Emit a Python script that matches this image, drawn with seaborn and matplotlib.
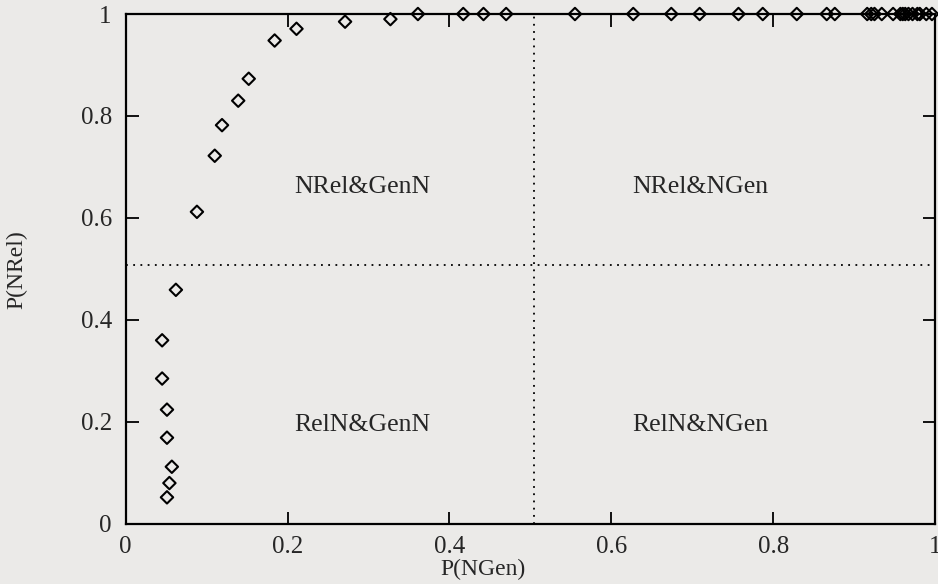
import numpy as np
import pandas as pd
import seaborn as sns
import matplotlib.pyplot as plt

# points
p_ngen = [0.051, 0.054, 0.057, 0.051, 0.051, 0.045, 0.045, 0.062,
          0.088, 0.110, 0.119, 0.139, 0.152, 0.184, 0.211, 0.271, 0.327]
p_nrel = [0.052, 0.080, 0.112, 0.169, 0.224, 0.285, 0.360, 0.459,
          0.612, 0.722, 0.782, 0.830, 0.873, 0.948, 0.971, 0.985, 0.990]

# points sitting on the top border (P(NRel) = 1)
p_ngen_top = [0.361, 0.417, 0.442, 0.470, 0.555, 0.627, 0.674, 0.709, 0.757,
              0.787, 0.829, 0.866, 0.876, 0.916, 0.921, 0.925, 0.934, 0.948,
              0.957, 0.960, 0.963, 0.967, 0.972, 0.978, 0.981, 0.989, 0.996]

x_cut = 0.505
y_cut = 0.508

region_labels = ["NRel&GenN", "NRel&NGen", "RelN&GenN", "RelN&NGen"]
region_x = [0.292, 0.71, 0.292, 0.71]
region_y = [0.66, 0.66, 0.194, 0.194]

ticks = [0, 0.2, 0.4, 0.6, 0.8, 1]
tick_labels = ["0", "0.2", "0.4", "0.6", "0.8", "1"]

df = pd.DataFrame({
    "ngen": p_ngen + p_ngen_top,
    "nrel": p_nrel + [1.0] * len(p_ngen_top),
})

sns.set_style("ticks")
plt.rcParams["font.family"] = ["Liberation Serif", "DejaVu Serif"]
bg = "#ebeae8"

fig = plt.figure(figsize=(9.38, 5.84), dpi=100, facecolor=bg)
ax = fig.add_axes([0.134, 0.103, 0.863, 0.873])
ax.set_facecolor(bg)

ax.axvline(x_cut, color="black", ls=(0, (1, 3)), lw=1.3)
ax.axhline(y_cut, color="black", ls=(0, (1, 3)), lw=1.3)

sns.scatterplot(data=df, x="ngen", y="nrel", marker="D", s=40,
                facecolor="none", edgecolor="black", linewidth=1.5,
                clip_on=False, zorder=5, ax=ax)

for lab, tx, ty in zip(region_labels, region_x, region_y):
    ax.text(tx, ty, lab, ha="center", va="center", fontsize=18.5)

ax.set_xlim(0, 1)
ax.set_ylim(0, 1)
ax.set_xticks(ticks)
ax.set_xticklabels(tick_labels)
ax.set_yticks(ticks)
ax.set_yticklabels(tick_labels)
ax.tick_params(direction="in", length=9, width=1.3, labelsize=18,
               top=True, right=True, color="black")
ax.tick_params(axis="x", pad=9)
ax.tick_params(axis="y", pad=10)
for sp in ax.spines.values():
    sp.set_linewidth(1.6)
    sp.set_color("black")

ax.set_xlabel("P(NGen)", fontsize=17, va="center")
ax.set_ylabel("P(NRel)", fontsize=17, va="center")
ax.xaxis.set_label_coords(0.441, -0.09)
ax.yaxis.set_label_coords(-0.134, 0.498)

fig.savefig("out.png", dpi=100, facecolor=bg)
